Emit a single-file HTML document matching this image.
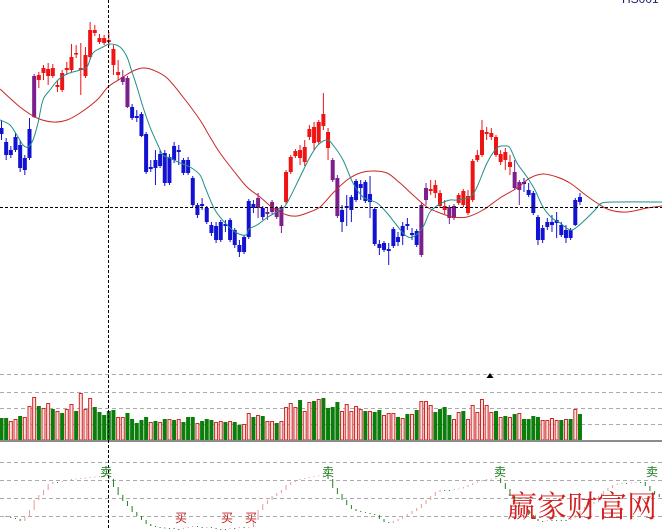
<!DOCTYPE html>
<html><head><meta charset="utf-8">
<style>
html,body{margin:0;padding:0;background:#fff;width:662px;height:530px;overflow:hidden}
svg{display:block}
</style></head>
<body>
<svg id="s" width="662" height="530" viewBox="0 0 662 530" xmlns="http://www.w3.org/2000/svg" font-family="'Liberation Sans','Noto Sans CJK SC',sans-serif">
<rect width="662" height="530" fill="#ffffff"/>
<g stroke="#ababab" stroke-width="1" stroke-dasharray="4,3" fill="none">
  <line x1="0" y1="374.5" x2="662" y2="374.5"/>
  <line x1="0" y1="392.5" x2="662" y2="392.5"/>
  <line x1="0" y1="408.5" x2="662" y2="408.5"/>
  <line x1="0" y1="424.5" x2="662" y2="424.5"/>
  <line x1="0" y1="462.5" x2="662" y2="462.5"/>
  <line x1="0" y1="480.5" x2="662" y2="480.5"/>
  <line x1="0" y1="498.5" x2="662" y2="498.5"/>
  <line x1="0" y1="516.5" x2="662" y2="516.5"/>
</g>
<g id="vol"></g>
<rect x="0" y="440" width="662" height="2" fill="#8c8c8c"/>
<g id="ind"></g>
<g id="cdl"></g>
<path id="ma2" fill="none" stroke="#c82828" stroke-width="1"/>
<path id="ma1" fill="none" stroke="#1f8f8a" stroke-width="1"/>
<line x1="0" y1="207.5" x2="662" y2="207.5" stroke="#000" stroke-width="1" stroke-dasharray="3,2"/>
<line x1="108.5" y1="0" x2="108.5" y2="530" stroke="#000" stroke-width="1" stroke-dasharray="3,2"/>
<polygon points="490,373 486.5,378 493.5,378" fill="#000"/>
<text x="622" y="3" font-size="12" fill="#202070">HS001</text>
<g font-family="'Liberation Sans','Noto Sans CJK SC',sans-serif" font-size="12">
  <text x="106" y="476" text-anchor="middle" fill="#1a7a1a">卖</text>
  <text x="328" y="476" text-anchor="middle" fill="#1a7a1a">卖</text>
  <text x="500" y="476" text-anchor="middle" fill="#1a7a1a">卖</text>
  <text x="652" y="476" text-anchor="middle" fill="#1a7a1a">卖</text>
  <text x="181" y="522" text-anchor="middle" fill="#c02020">买</text>
  <text x="227" y="522" text-anchor="middle" fill="#c02020">买</text>
  <text x="251" y="522" text-anchor="middle" fill="#c02020">买</text>
</g>
<text x="507" y="517" font-size="30" fill="#d42020" font-family="'Liberation Serif','Noto Serif CJK SC',serif" textLength="150" lengthAdjust="spacingAndGlyphs">赢家财富网</text>
</svg>
<script>
(function(){
var NS="http://www.w3.org/2000/svg";
function el(t,a,p){var e=document.createElementNS(NS,t);for(var k in a)e.setAttribute(k,a[k]);p.appendChild(e);return e;}
function X(i){return 1.5+4.665*i;}
var C=[[128,134,120,140,'B'],[142,155,138,160,'B'],[150,155,146,158,'B'],[137,150,133,152,'B'],[145,168,140,172,'B'],[158,170,155,175,'B'],[129,158,118,160,'B'],[76,117,74,118,'P'],[75,80,72,88,'R'],[68,73,65,80,'R'],
[69,76,63,85,'R'],[68,76,64,78,'R'],[85,87,80,92,'R'],[73,90,70,92,'R'],[68,70,62,75,'R'],[57,70,44,72,'R'],[53,54,45,58,'R'],[68,70,43,95,'R'],[55,76,47,78,'R'],[30,57,22,60,'R'],
[30,33,25,36,'R'],[38,42,34,44,'R'],[38,43,35,45,'R'],[40,42,32,46,'R'],[49,65,45,75,'R'],[72,75,60,80,'R'],[77,82,70,85,'P'],[78,107,76,108,'P'],[107,118,104,120,'B'],[116,118,110,122,'B'],
[114,136,112,137,'B'],[134,172,132,174,'B'],[167,169,160,172,'B'],[160,168,150,185,'B'],[154,166,150,168,'B'],[153,183,150,186,'B'],[157,183,154,185,'B'],[146,160,142,163,'B'],[150,152,145,165,'B'],[160,173,158,175,'B'],
[160,173,157,175,'B'],[178,205,176,207,'B'],[205,215,203,218,'B'],[204,206,198,210,'B'],[208,222,206,224,'B'],[225,233,222,236,'B'],[226,240,222,243,'B'],[222,240,220,242,'B'],[224,226,220,232,'B'],[220,240,218,242,'B'],
[230,245,228,248,'B'],[245,252,240,257,'B'],[237,252,235,254,'B'],[201,237,199,239,'B'],[204,208,200,213,'B'],[198,208,193,218,'P'],[208,217,206,220,'B'],[212,214,207,220,'P'],[202,212,200,214,'P'],[208,217,206,219,'P'],
[207,226,205,233,'P'],[172,202,170,204,'R'],[157,172,155,174,'R'],[151,156,149,158,'R'],[150,158,145,165,'R'],[147,162,140,166,'R'],[129,137,125,140,'R'],[127,143,122,150,'R'],[122,142,120,144,'R'],[114,126,93,130,'R'],
[132,148,128,160,'R'],[160,180,158,182,'P'],[178,216,175,218,'P'],[210,222,205,232,'B'],[206,208,195,226,'B'],[197,210,195,222,'B'],[181,200,179,202,'B'],[184,188,180,200,'B'],[182,201,180,203,'B'],[194,202,176,218,'B'],
[209,244,207,246,'B'],[244,248,240,255,'B'],[243,250,241,252,'B'],[249,251,243,265,'B'],[229,246,227,248,'B'],[237,242,232,246,'B'],[226,236,222,245,'B'],[224,226,218,230,'B'],[233,235,228,240,'B'],[231,245,229,247,'B'],
[205,255,203,257,'P'],[188,200,183,205,'P'],[189,191,180,195,'R'],[185,193,180,198,'R'],[193,206,190,208,'R'],[206,210,200,214,'R'],[207,218,205,224,'P'],[206,218,204,220,'P'],[195,203,193,205,'R'],[191,205,189,207,'R'],
[196,213,190,215,'R'],[161,200,159,202,'R'],[155,160,150,162,'R'],[130,155,120,157,'R'],[132,134,127,140,'R'],[133,137,128,140,'R'],[137,155,135,157,'R'],[154,162,150,165,'R'],[152,160,148,170,'R'],[162,167,155,175,'R'],
[172,188,160,190,'P'],[182,190,180,205,'P'],[182,184,178,192,'B'],[190,195,183,197,'B'],[193,213,191,215,'B'],[217,240,215,245,'B'],[228,240,225,243,'B'],[222,227,218,230,'B'],[222,225,215,232,'B'],[220,223,212,238,'B'],
[225,235,222,237,'B'],[230,238,225,243,'B'],[230,238,228,240,'B'],[200,225,198,226,'B'],[197,202,193,205,'B']];
var COL={R:'#ee1414',B:'#1212d2',P:'#7c1f8c'};
var g=document.getElementById('cdl');
C.forEach(function(c,i){var x=X(i),col=COL[c[4]];
 el('rect',{x:x-0.5,y:c[2],width:1,height:c[3]-c[2],fill:col},g);
 var h=Math.max(1.5,c[1]-c[0]);
 el('rect',{x:x-2,y:c[0],width:4,height:h,fill:col},g);
});
var V=[[418,'g'],[418,'g'],[421,'r'],[419,'r'],[416,'g'],[417,'r'],[406,'r'],[397,'r'],[406,'g'],[408,'r'],
[403,'r'],[409,'g'],[411,'r'],[413,'g'],[409,'r'],[404,'r'],[411,'g'],[393,'r'],[409,'r'],[398,'r'],
[407,'g'],[412,'g'],[415,'g'],[411,'g'],[410,'g'],[417,'r'],[417,'r'],[413,'g'],[419,'g'],[423,'g'],
[420,'g'],[417,'g'],[422,'r'],[421,'g'],[422,'r'],[419,'g'],[419,'r'],[420,'g'],[419,'r'],[422,'g'],
[417,'g'],[417,'g'],[423,'r'],[421,'g'],[419,'g'],[420,'g'],[422,'r'],[421,'r'],[422,'g'],[421,'r'],
[422,'g'],[425,'g'],[424,'r'],[413,'r'],[417,'g'],[415,'r'],[416,'g'],[421,'r'],[421,'r'],[423,'g'],
[421,'r'],[407,'r'],[403,'r'],[407,'r'],[400,'g'],[411,'r'],[402,'r'],[401,'g'],[399,'r'],[398,'g'],
[408,'g'],[407,'g'],[402,'g'],[411,'r'],[404,'r'],[411,'r'],[406,'r'],[409,'r'],[411,'g'],[411,'r'],
[412,'g'],[410,'g'],[415,'r'],[413,'r'],[413,'r'],[417,'g'],[418,'r'],[414,'g'],[414,'r'],[410,'g'],
[401,'r'],[401,'r'],[405,'r'],[412,'g'],[409,'g'],[407,'g'],[415,'g'],[419,'r'],[412,'r'],[411,'g'],
[419,'r'],[405,'r'],[412,'r'],[399,'r'],[405,'r'],[412,'r'],[411,'g'],[417,'r'],[416,'g'],[417,'r'],
[414,'g'],[413,'r'],[419,'g'],[419,'g'],[416,'g'],[417,'g'],[420,'r'],[420,'r'],[418,'r'],[420,'r'],
[420,'g'],[419,'r'],[419,'g'],[409,'r'],[414,'g']];
var gv=document.getElementById('vol');
V.forEach(function(v,i){var x=X(i)-2;
 if(v[1]=='g'){el('rect',{x:x,y:v[0],width:4,height:440-v[0],fill:'#0a7d0a'},gv);}
 else{el('rect',{x:x+0.5,y:v[0]+0.5,width:3,height:440-v[0]-0.5,fill:'#fde2e2',stroke:'#d02828','stroke-width':1},gv);}
});
var Y=[516,517,518,519,521,517,510,500,495,490,484,482,482,481,480,479,478.5,478,477.5,477,476.5,476,476,
479,487,495,501,506,512,516,520,524,526,527,527.5,528,528,529,529,528,527,526,527,528,527,528,529,529,529,528,528,527,528,527,
520,510,504,500,496,493,490,485,482,480,479,478,477,476,475.5,475,
479,488,494,500,505,509,511,512,513,514,515,519,522,523,521,519,517,514,511,508,504,500,496,492,490,490,490,489,488.5,487,485,483,481.5,480,479,478.5,478,
483,489,496,502,506,510,515,519,521,521,520,520,520,520,520,518,515,511,507,504,502,496,491,488,485,483.5,483,483,482.5,482,482,486,491,494,497];
var gi=document.getElementById('ind');
for(var i=1;i<Y.length;i++){var x=X(i),a=Y[i-1],b=Y[i];var col=b<a?'#e29c9c':'#1f821f';
 var y0=Math.min(a,b),h=Math.abs(b-a);if(h<1)h=1;
 el('rect',{x:x-0.5,y:y0,width:1,height:h,fill:col},gi);}
function smooth(p){var d='M'+p[0][0]+','+p[0][1];for(var i=0;i<p.length-1;i++){var p0=p[i-1]||p[i],p1=p[i],p2=p[i+1],p3=p[i+2]||p2;
 d+=' C'+(p1[0]+(p2[0]-p0[0])/6)+','+(p1[1]+(p2[1]-p0[1])/6)+' '+(p2[0]-(p3[0]-p1[0])/6)+','+(p2[1]-(p3[1]-p1[1])/6)+' '+p2[0]+','+p2[1];}return d;}
var M1=[[0,120],[10,125],[18,137],[23,145],[28,147],[33,140],[38,123],[43,100],[50,90],[58,80],[67,74],[80,70],[87,67],[93,53],[103,47],[110,44],[120,47],[127,57],[132,72],[137,87],[143,107],[150,127],[157,143],[163,155],[170,158],[180,163],[190,167],[200,175],[205,187],[215,210],[227,225],[237,233],[246,235],[249,229],[257,225],[268,217],[280,210],[287,203],[300,177],[310,157],[318,145],[327,140],[333,145],[343,160],[353,183],[363,197],[377,203],[387,213],[395,223],[405,235],[413,237],[423,227],[430,212],[440,204],[450,200],[457,200],[470,197],[477,187],[487,163],[497,148],[505,146],[510,148],[517,163],[527,177],[535,190],[543,207],[552,218],[560,223],[570,230],[577,227],[587,218],[595,210],[602,203],[620,202],[662,202]];
var M2=[[0,89],[20,107],[37,118],[53,122],[67,120],[80,113],[97,100],[108,87],[120,79],[133,71],[143,68],[153,70],[167,78],[183,97],[200,120],[210,137],[220,153],[233,170],[247,187],[260,197],[273,208],[287,215],[297,216],[307,213],[320,207],[333,193],[347,180],[360,173],[373,171],[387,173],[400,183],[413,195],[427,207],[440,213],[453,217],[467,217],[483,210],[500,198],[517,188],[530,178],[543,174],[557,177],[570,183],[583,193],[597,203],[610,210],[627,212],[647,208],[662,206]];
document.getElementById('ma1').setAttribute('d',smooth(M1));
document.getElementById('ma2').setAttribute('d',smooth(M2));
})();
</script>
</body></html>
